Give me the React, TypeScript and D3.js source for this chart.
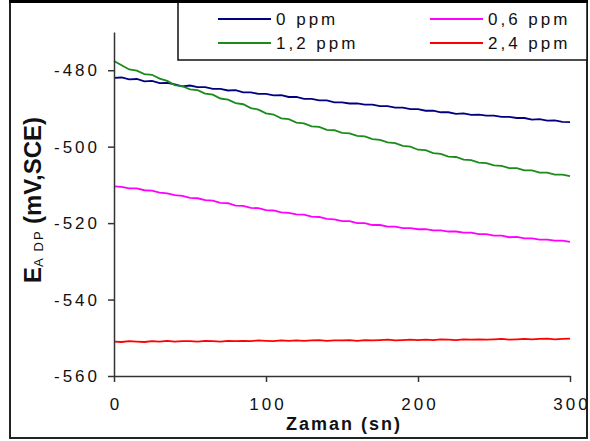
import React, { useEffect, useRef } from "react";
import * as d3 from "d3";

const TIME = [0, 5, 10, 15, 20, 25, 30, 35, 40, 45, 50, 55, 60, 65, 70, 75, 80, 85, 90, 95,
  100, 105, 110, 115, 120, 125, 130, 135, 140, 145, 150, 155, 160, 165, 170, 175, 180, 185, 190, 195,
  200, 205, 210, 215, 220, 225, 230, 235, 240, 245, 250, 255, 260, 265, 270, 275, 280, 285, 290, 295, 300];

const PPM_0 = [-482.0, -481.9, -482.4, -482.3, -482.9, -482.8, -483.4, -483.3, -483.7, -484.2,
  -484.0, -484.4, -484.4, -484.9, -484.9, -485.3, -485.2, -485.8, -485.8, -486.2,
  -486.2, -486.6, -486.5, -487.0, -487.0, -487.5, -487.5, -487.9, -487.9, -488.4,
  -488.4, -488.7, -488.7, -489.0, -489.0, -489.4, -489.4, -489.8, -489.8, -490.2,
  -490.2, -490.6, -490.6, -491.0, -491.0, -491.4, -491.3, -491.7, -491.6, -491.9,
  -491.9, -492.2, -492.2, -492.5, -492.5, -492.9, -492.8, -493.2, -493.1, -493.5, -493.6];

const PPM_12 = [-477.6, -478.7, -479.8, -480.1, -481.0, -481.2, -482.2, -482.8, -483.9, -484.2,
  -485.0, -485.2, -486.1, -486.4, -487.4, -487.7, -488.6, -488.9, -489.9, -490.3,
  -491.3, -491.6, -492.6, -492.8, -493.7, -493.9, -494.7, -494.8, -495.6, -495.7,
  -496.4, -496.5, -497.2, -497.3, -498.0, -498.2, -498.9, -499.1, -499.8, -500.0,
  -500.8, -500.9, -501.7, -501.9, -502.6, -502.7, -503.4, -503.5, -504.2, -504.3,
  -504.9, -505.0, -505.6, -505.6, -506.2, -506.2, -506.8, -506.8, -507.3, -507.3, -507.7];

const PPM_06 = [-510.4, -510.5, -510.9, -510.9, -511.4, -511.5, -512.0, -512.2, -512.7, -512.9,
  -513.4, -513.5, -514.0, -514.1, -514.7, -514.8, -515.4, -515.5, -516.0, -516.1,
  -516.6, -516.7, -517.2, -517.3, -517.7, -517.8, -518.3, -518.4, -518.9, -519.0,
  -519.5, -519.5, -520.0, -520.0, -520.5, -520.5, -520.9, -520.9, -521.3, -521.3,
  -521.6, -521.6, -521.9, -521.9, -522.2, -522.2, -522.5, -522.5, -522.9, -522.9,
  -523.3, -523.3, -523.7, -523.6, -524.0, -524.0, -524.3, -524.3, -524.6, -524.6, -524.9];

const PPM_24 = [-551.0, -551.1, -550.9, -551.0, -551.1, -550.9, -551.0, -550.8, -551.0, -550.9,
  -550.9, -551.0, -550.8, -550.9, -551.0, -550.8, -550.9, -550.8, -550.9, -550.7,
  -550.8, -550.9, -550.7, -550.8, -550.7, -550.8, -550.7, -550.6, -550.8, -550.7,
  -550.7, -550.6, -550.8, -550.6, -550.7, -550.6, -550.5, -550.7, -550.6, -550.5,
  -550.6, -550.5, -550.6, -550.4, -550.5, -550.6, -550.4, -550.5, -550.4, -550.5,
  -550.4, -550.3, -550.5, -550.4, -550.3, -550.4, -550.3, -550.2, -550.4, -550.3, -550.2];

const SERIES_NAMES = ["0 ppm", "0,6 ppm", "1,2 ppm", "2,4 ppm"];
const SERIES_VALUES = [PPM_0, PPM_06, PPM_12, PPM_24];
const SERIES_COLORS = ["#000080", "#ff00ff", "#1b8c1b", "#ff0000"];
const X_TICKS = [0, 100, 200, 300];
const Y_TICKS = [-560, -540, -520, -500, -480];
const X_TITLE = "Zaman (sn)";

const W = 590;
const H = 441;
const FONT = "'Liberation Sans', Arial, sans-serif";

export default function App() {
  const ref = useRef<SVGSVGElement>(null);

  useEffect(() => {
    const svg = d3.select(ref.current);
    svg.selectAll("*").remove();

    const x = d3.scaleLinear().domain([0, 300]).range([114, 570]);
    const y = d3.scaleLinear().domain([-560, -470]).range([376, 32]);

    svg.append("rect").attr("x", 0).attr("y", 0).attr("width", W).attr("height", H).attr("fill", "#fff");

    // outer frame
    svg.append("rect").attr("x", 10).attr("y", 2).attr("width", 577).attr("height", 436)
      .attr("fill", "none").attr("stroke", "#222").attr("stroke-width", 2);

    // lines
    const line = d3.line<number>().x((_, i) => x(TIME[i])).y((d) => y(d));
    SERIES_VALUES.forEach((vals, k) => {
      svg.append("path").datum(vals).attr("d", line).attr("fill", "none")
        .attr("stroke", SERIES_COLORS[k]).attr("stroke-width", 1.8).attr("stroke-linejoin", "miter");
    });

    // axes
    const fmt = (d: any) => String(d);
    const gy = svg.append("g").attr("transform", "translate(114,0)")
      .call(d3.axisLeft(y).tickValues(Y_TICKS).tickSize(6).tickSizeOuter(0).tickPadding(8).tickFormat(fmt));
    const gx = svg.append("g").attr("transform", "translate(0,376)")
      .call(d3.axisBottom(x).tickValues(X_TICKS).tickSize(6).tickSizeOuter(0).tickPadding(16).tickFormat(fmt));
    [gy, gx].forEach((g) => {
      g.select(".domain").attr("stroke", "#333").attr("stroke-width", 1.5);
      g.selectAll(".tick line").attr("stroke", "#333").attr("stroke-width", 1.5);
      g.selectAll(".tick text").attr("fill", "#111").style("font-family", FONT)
        .style("font-size", "17px").style("letter-spacing", "3px");
    });
    gx.selectAll(".tick text").attr("dx", "1.5");

    // x title
    svg.append("text").attr("x", 344).attr("y", 430).attr("text-anchor", "middle")
      .style("font-family", FONT).style("font-size", "18px").style("font-weight", "bold")
      .style("letter-spacing", "2px").attr("fill", "#111").text(X_TITLE);

    // y title
    const yt = svg.append("text").attr("transform", "translate(41,200) rotate(-90)")
      .attr("text-anchor", "middle").style("font-family", FONT).style("font-weight", "bold")
      .attr("fill", "#111");
    yt.append("tspan").style("font-size", "24px").text("E");
    yt.append("tspan").style("font-size", "13px").style("font-weight", "normal")
      .style("letter-spacing", "2px").attr("dy", 2).text("A DP ");
    yt.append("tspan").style("font-size", "24px").attr("dy", -2).text("(mV,SCE)");

    // legend
    svg.append("rect").attr("x", 178).attr("y", 2).attr("width", 409).attr("height", 58)
      .attr("fill", "#fff").attr("stroke", "#111").attr("stroke-width", 1.5);
    svg.append("line").attr("x1", 9).attr("x2", 588).attr("y1", 1.5).attr("y2", 1.5)
      .attr("stroke", "#000").attr("stroke-width", 3);
    const legendPos = [
      { lx: 218, ly: 19 },
      { lx: 430, ly: 19 },
      { lx: 218, ly: 43 },
      { lx: 430, ly: 43 },
    ];
    SERIES_NAMES.forEach((name, k) => {
      const p = legendPos[k];
      svg.append("line").attr("x1", p.lx).attr("x2", p.lx + 53).attr("y1", p.ly).attr("y2", p.ly)
        .attr("stroke", SERIES_COLORS[k]).attr("stroke-width", 2);
      svg.append("text").attr("x", p.lx + 58).attr("y", p.ly + 6)
        .style("font-family", FONT).style("font-size", "17px").style("letter-spacing", "3px")
        .attr("fill", "#111").text(name);
    });
  }, []);

  return (
    <svg ref={ref} width={W} height={H} style={{ position: "absolute", left: 0, top: 0 }} />
  );
}
